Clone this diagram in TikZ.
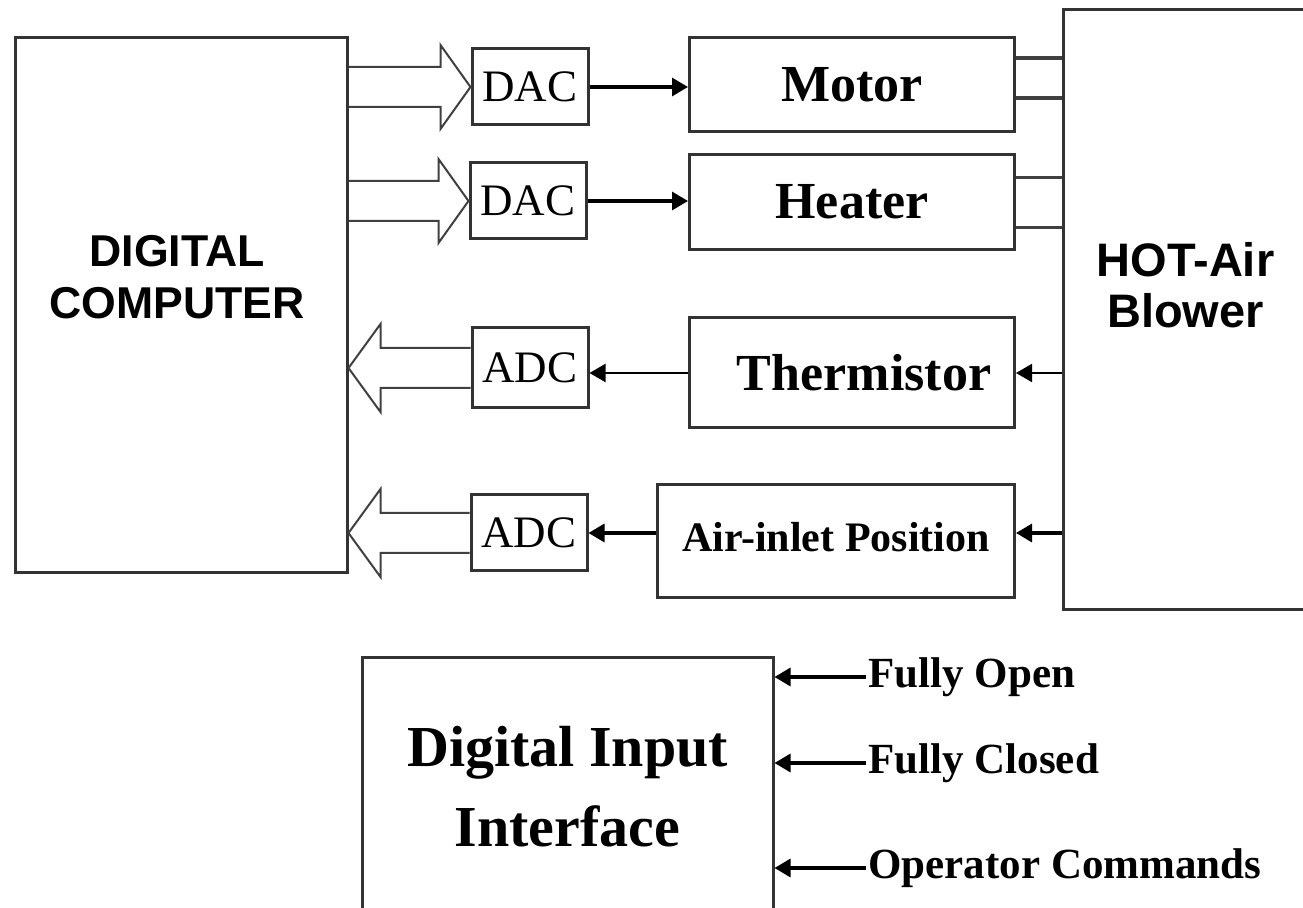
\documentclass[tikz,border=0pt]{standalone}
\usepackage{fontspec}
\setmainfont{Liberation Serif}
\newfontfamily\headfont{Liberation Sans}
\usetikzlibrary{arrows.meta,calc}
\tikzset{
  blk/.style={draw=black!80, line width=1.5pt, inner sep=0pt, align=center},
  conv/.style={blk, minimum width=58pt, minimum height=38pt,
               font=\fontsize{22.5}{24}\selectfont},
  unit/.style={blk, minimum width=162.5pt, font=\fontsize{26}{28}\selectfont\bfseries},
  sig/.style={-{Triangle[length=8pt,width=9pt]}, line width=1.6pt},
  wire/.style={line width=1.3pt, black!75},
  cmd/.style={anchor=west, inner sep=1pt, font=\fontsize{21.5}{23}\selectfont\bfseries},
  busR/.style={line width=1pt, black!75, to path={let \p1=(\tikztostart), \p2=(\tikztotarget) in
    (\x1,\y2+10pt) -- (\x2-15pt,\y2+10pt) -- (\x2-15pt,\y2+21pt) -- (\x2,\y2)
    -- (\x2-15pt,\y2-21pt) -- (\x2-15pt,\y2-10pt) -- (\x1,\y2-10pt)}},
  busL/.style={line width=1pt, black!75, to path={let \p1=(\tikztostart), \p2=(\tikztotarget) in
    (\x1,\y1+10pt) -- (\x2+16pt,\y1+10pt) -- (\x2+16pt,\y1+22pt) -- (\x2,\y1)
    -- (\x2+16pt,\y1-22pt) -- (\x2+16pt,\y1-10pt) -- (\x1,\y1-10pt)}},
}

\begin{document}
\begin{tikzpicture}[x=0.5pt,y=-0.5pt]
  \useasboundingbox (0,0) rectangle (1303,908);

  % computer and plant
  \node[blk, minimum width=166pt, minimum height=267.5pt] (cpu) at (181,305) {};
  \node[font=\fontsize{22.3}{26}\selectfont\headfont\bfseries, align=center]
    at ([xshift=-2pt,yshift=14pt]cpu.center) {DIGITAL\\COMPUTER};
  \node[blk, minimum width=122.5pt, minimum height=300pt] (blower) at (1185.5,310) {};
  \node[font=\fontsize{23.5}{25.5}\selectfont\headfont\bfseries, align=center]
    at ([yshift=12.5pt]blower.center) {HOT-Air\\Blower};

  % converters
  \node[conv] (dac1) at (530,87)  {DAC};
  \node[conv] (dac2) at (528,201) {DAC};
  \node[conv, minimum height=40pt] (adc1) at (530,368) {ADC};
  \node[conv] (adc2) at (529,533) {ADC};

  % actuators and sensors
  \node[unit, minimum height=47pt]   (motor)  at (852,85)  {Motor};
  \node[unit, minimum height=47.5pt] (heater) at (852,202) {Heater};
  \node[unit, minimum height=55pt]   (therm)  at (852,373) {\hspace*{12pt}Thermistor};
  \node[blk, minimum width=178.5pt, minimum height=56.5pt,
        font=\fontsize{21}{23}\selectfont\bfseries] (air) at (836,541)
        {\raisebox{4pt}{Air-inlet Position}};

  % digital inputs
  \node[blk, minimum width=205.5pt, minimum height=128.5pt,
        font=\fontsize{29}{40}\selectfont\bfseries] (dii) at (567.5,786.5)
        {Digital Input\\Interface};
  \node[cmd] (open)  at (866,677) {Fully Open};
  \node[cmd] (close) at (866,763) {Fully Closed};
  \node[cmd] (oper)  at (866,868) {Operator Commands};

  % buses
  \draw[busR] (cpu.east) to (dac1.west);
  \draw[busR] (cpu.east) to (dac2.west);
  \draw[busL] (adc1.west) to (cpu.east);
  \draw[busL] (adc2.west) to (cpu.east);

  % analog signals
  \draw[sig] (dac1.east) -- (dac1.east -| motor.west);
  \draw[sig] (dac2.east) -- (dac2.east -| heater.west);
  \draw[sig, line width=1pt] (therm.west) -- (therm.west -| adc1.east);
  \draw[sig] (air.west |- adc2.east) -- (adc2.east);
  \draw[sig, line width=1pt] (blower.west |- therm.east) -- (therm.east);
  \draw[sig] (blower.west |- adc2.east) -- (air.east |- adc2.east);

  % wires into the blower
  \coordinate (m1) at ([yshift=13.5pt]motor.east);
  \coordinate (m2) at ([yshift=-6.5pt]motor.east);
  \coordinate (h1) at ([yshift=12.25pt]heater.east);
  \coordinate (h2) at ([yshift=-12.75pt]heater.east);
  \draw[wire, line width=2pt] (m1) -- (m1 -| blower.west);
  \draw[wire, line width=2pt] (m2) -- (m2 -| blower.west);
  \draw[wire] (h1) -- (h1 -| blower.west);
  \draw[wire] (h2) -- (h2 -| blower.west);

  % commands
  \draw[sig] (open.west) -- (open.west -| dii.east);
  \draw[sig] (close.west) -- (close.west -| dii.east);
  \draw[sig] (oper.west) -- (oper.west -| dii.east);
\end{tikzpicture}
\end{document}
